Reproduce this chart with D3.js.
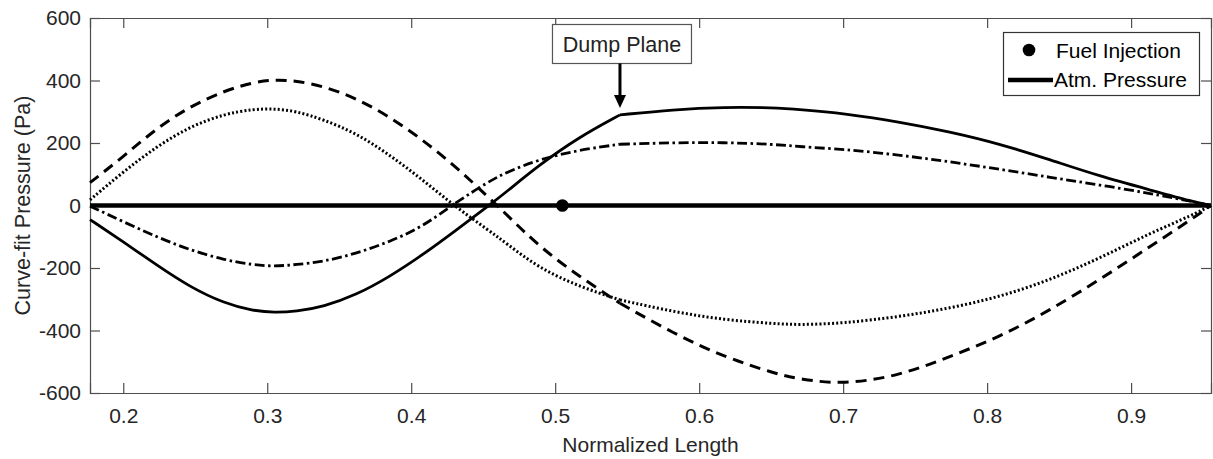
<!DOCTYPE html>
<html>
<head>
<meta charset="utf-8">
<script src="https://cdn.jsdelivr.net/npm/d3@7"></script>
<style>
  html, body { margin: 0; padding: 0; background: #fff; }
  svg { display: block; }
  text { font-family: "Liberation Sans", Arial, sans-serif; }
</style>
</head>
<body>
<svg id="chart" width="1213" height="459"></svg>
<script>
// Sample positions along the normalized length
const positions = [0.1769, 0.2, 0.223, 0.246, 0.27, 0.29, 0.305, 0.32, 0.339, 0.362, 0.385, 0.408,
  0.431, 0.454, 0.466, 0.489, 0.517, 0.545, 0.582, 0.617, 0.652, 0.67, 0.7, 0.739, 0.774,
  0.809, 0.844, 0.878, 0.913, 0.943, 0.9555];

// Curve-fit pressure (Pa) for each mode
const solidMode = [-45, -116, -190, -260, -313, -337, -343, -339, -324, -286, -228, -158,
  -80, 0, 43, 130, 220, 290, 307, 315, 313, 307, 295, 268, 236,
  197, 146, 94, 50, 12, 0];
const dashedMode = [73, 156, 247, 316, 367, 394, 403, 399, 382, 343, 284, 210,
  124, 25, -28, -132, -228, -313, -409, -484, -537, -556, -573, -545, -484,
  -420, -334, -238, -132, -41, 0];
const dottedMode = [18, 108, 188, 252, 293, 308, 310, 302, 275, 231, 162, 82,
  -5, -80, -121, -201, -260, -302, -340, -366, -378, -382, -377, -356, -329,
  -292, -238, -169, -89, -30, 0];
const dashDotMode = [-2, -52, -100, -142, -174, -190, -195, -189, -180, -153, -116, -68,
  10, 77, 106, 148, 178, 196, 201, 202, 196, 188, 180, 162, 140,
  116, 90, 66, 39, 12, 0];

const xTicks = [0.2, 0.3, 0.4, 0.5, 0.6, 0.7, 0.8, 0.9];
const yTicks = [-600, -400, -200, 0, 200, 400, 600];

const dumpPlaneX = 0.545;
const fuelInjection = [0.505, 0];
const atmPressure = 0;

const svg = d3.select("#chart");
const margin = { left: 90, top: 18, right: 2, bottom: 66 };
const W = 1213, H = 459;

const x = d3.scaleLinear().domain([0.1769, 0.9555]).range([margin.left, W - margin.right]);
const y = d3.scaleLinear().domain([-600, 600]).range([H - margin.bottom, margin.top]);

const axisColor = "#4d4d4d";
const labelColor = "#262626";

// Axes with inward ticks, box on all four sides
const gx = svg.append("g").attr("transform", `translate(0,${y(-600)})`)
  .call(d3.axisBottom(x).tickValues(xTicks).tickSize(-10).tickPadding(15).tickFormat(d => String(d)));
const gxt = svg.append("g").attr("transform", `translate(0,${y(600)})`)
  .call(d3.axisTop(x).tickValues(xTicks).tickSize(-10).tickFormat(""));
const gy = svg.append("g").attr("transform", `translate(${x.range()[0]},0)`)
  .call(d3.axisLeft(y).tickValues(yTicks).tickSize(-10).tickPadding(9).tickFormat(d => String(d)));
const gyr = svg.append("g").attr("transform", `translate(${x.range()[1]},0)`)
  .call(d3.axisRight(y).tickValues(yTicks).tickSize(-10).tickFormat(""));

[gx, gxt, gy, gyr].forEach(g => {
  g.select(".domain").attr("stroke", axisColor).attr("stroke-width", 1.2);
  g.selectAll(".tick line").attr("stroke", axisColor).attr("stroke-width", 1.2);
  g.selectAll(".tick text").attr("fill", labelColor).attr("font-size", 21)
    .attr("font-family", "'Liberation Sans', Arial, sans-serif");
});

// Axis titles
svg.append("text")
  .attr("x", (x.range()[0] + x.range()[1]) / 2).attr("y", 452)
  .attr("text-anchor", "middle").attr("font-size", 21).attr("fill", labelColor)
  .text("Normalized Length");
svg.append("text")
  .attr("transform", `translate(30,${(y(600) + y(-600)) / 2}) rotate(-90)`)
  .attr("text-anchor", "middle").attr("font-size", 21.5).attr("fill", labelColor)
  .text("Curve-fit Pressure (Pa)");

// Mode curves: each drawn as two smooth pieces meeting at the dump plane
const line = d3.line().x(d => x(d[0])).y(d => y(d[1])).curve(d3.curveBasis);
const modes = [
  { values: solidMode, dash: null, width: 2.8 },
  { values: dashedMode, dash: "11,7", width: 3 },
  { values: dottedMode, dash: "2,2.2", width: 3 },
  { values: dashDotMode, dash: "10,3.5,2.5,3.5", width: 2.8 }
];
const plot = svg.append("g");
modes.forEach(m => {
  const pts = positions.map((p, i) => [p, m.values[i]]);
  const upstream = pts.filter(d => d[0] <= dumpPlaneX);
  const downstream = pts.filter(d => d[0] >= dumpPlaneX);
  [upstream, downstream].forEach(seg => {
    plot.append("path")
      .attr("d", line(seg))
      .attr("fill", "none")
      .attr("stroke", "#000")
      .attr("stroke-width", m.width)
      .attr("stroke-dasharray", m.dash)
      .attr("stroke-linejoin", "round");
  });
});

// Atmospheric pressure reference line
plot.append("line")
  .attr("x1", x(positions[0])).attr("x2", x(positions[positions.length - 1]))
  .attr("y1", y(atmPressure)).attr("y2", y(atmPressure))
  .attr("stroke", "#000").attr("stroke-width", 4.5);

// Fuel injection location
plot.append("circle")
  .attr("cx", x(fuelInjection[0])).attr("cy", y(fuelInjection[1])).attr("r", 6.3)
  .attr("fill", "#000");

// Dump plane callout
const dpx = x(dumpPlaneX);
const boxW = 139, boxH = 39, boxTop = 24.5;
svg.append("rect")
  .attr("x", dpx - 67.5).attr("y", boxTop).attr("width", boxW).attr("height", boxH)
  .attr("fill", "#fff").attr("stroke", "#555").attr("stroke-width", 1.2);
svg.append("text")
  .attr("x", dpx - 67.5 + boxW / 2).attr("y", boxTop + 27)
  .attr("text-anchor", "middle").attr("font-size", 21.5).attr("fill", "#222")
  .attr("font-family", "Lato, 'Open Sans', sans-serif")
  .text("Dump Plane");
svg.append("line")
  .attr("x1", dpx).attr("x2", dpx).attr("y1", boxTop + boxH).attr("y2", 97)
  .attr("stroke", "#000").attr("stroke-width", 3);
svg.append("path")
  .attr("d", `M${dpx - 6},95 L${dpx + 6},95 L${dpx},108 Z`)
  .attr("fill", "#000");

// Legend
const lg = svg.append("g");
lg.append("rect").attr("x", 1003.5).attr("y", 32.5).attr("width", 196).attr("height", 63)
  .attr("fill", "#fff").attr("stroke", "#333").attr("stroke-width", 1.2);
lg.append("circle").attr("cx", 1029).attr("cy", 50).attr("r", 6.3).attr("fill", "#000");
lg.append("line").attr("x1", 1008).attr("x2", 1053).attr("y1", 80).attr("y2", 80)
  .attr("stroke", "#000").attr("stroke-width", 4.5);
lg.append("text").attr("x", 1056).attr("y", 58).attr("font-size", 21).attr("fill", "#000")
  .text("Fuel Injection");
lg.append("text").attr("x", 1054).attr("y", 87).attr("font-size", 21).attr("fill", "#000")
  .text("Atm. Pressure");
</script>
</body>
</html>
